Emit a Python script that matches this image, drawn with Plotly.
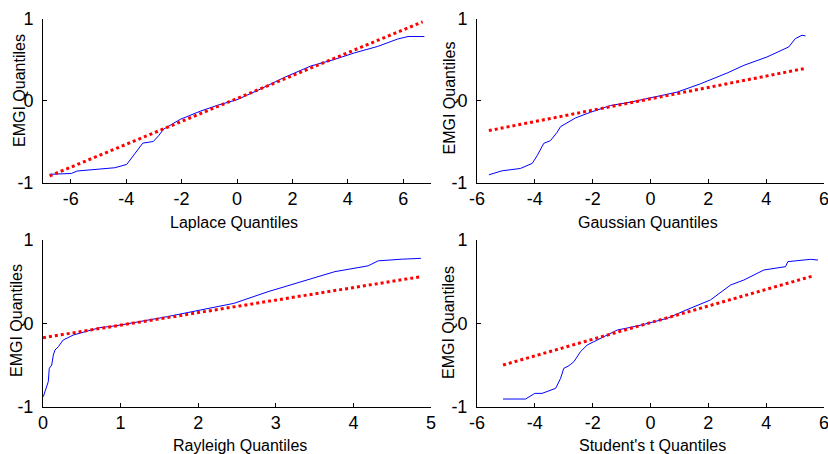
import plotly.graph_objects as go

W, H = 828, 454

# ---------------- data ----------------
laplace_x = [-6.76, -5.98, -5.77, -4.95, -4.41, -3.98, -3.80, -3.62, -3.40, -3.02, -2.83,
             -2.65, -2.05, -1.32, -0.72, 0.00, 0.85, 1.70, 2.66, 3.51, 4.23, 5.08, 5.80,
             6.17, 6.76]
laplace_y = [-0.90, -0.89, -0.86, -0.84, -0.82, -0.78, -0.70, -0.62, -0.52, -0.50, -0.43,
             -0.35, -0.23, -0.13, -0.06, 0.01, 0.14, 0.28, 0.42, 0.50, 0.58, 0.66, 0.75,
             0.78, 0.78]
laplace_ref_x = [-6.76, 6.70]
laplace_ref_y = [-0.92, 0.96]

gauss_x = [-5.59, -5.13, -4.50, -4.09, -3.92, -3.69, -3.46, -3.23, -3.11, -2.59, -2.07,
           -1.38, -0.69, 0.00, 0.92, 1.73, 2.65, 3.23, 4.03, 4.78, 5.01, 5.24, 5.36]
gauss_y = [-0.906, -0.857, -0.829, -0.767, -0.673, -0.522, -0.490, -0.388, -0.318, -0.212,
           -0.143, -0.061, -0.020, 0.029, 0.102, 0.204, 0.335, 0.429, 0.531, 0.653, 0.755,
           0.796, 0.788]
gauss_ref_x = [-5.59, 5.30]
gauss_ref_y = [-0.367, 0.388]

rayleigh_x = [0.004, 0.026, 0.068, 0.081, 0.112, 0.133, 0.155, 0.197, 0.26, 0.39, 0.56,
              0.73, 0.95, 1.25, 1.60, 2.03, 2.46, 2.90, 3.33, 3.76, 4.19, 4.32, 4.63, 4.87]
rayleigh_y = [-0.88, -0.82, -0.70, -0.54, -0.50, -0.38, -0.32, -0.28, -0.20, -0.14, -0.092,
              -0.052, -0.028, 0.02, 0.08, 0.16, 0.24, 0.38, 0.50, 0.62, 0.69, 0.75, 0.77,
              0.78]
rayleigh_ref_x = [0.0, 4.87]
rayleigh_ref_y = [-0.172, 0.56]

student_x = [-5.10, -4.32, -4.00, -3.75, -3.28, -3.11, -3.00, -2.82, -2.65, -2.42, -2.19,
             -1.84, -1.15, -0.46, 0.00, 0.58, 1.15, 2.07, 2.77, 3.23, 3.92, 4.67, 4.75,
             5.53, 5.79]
student_y = [-0.908, -0.908, -0.84, -0.84, -0.78, -0.66, -0.54, -0.508, -0.46, -0.34, -0.26,
             -0.20, -0.08, -0.032, 0.008, 0.06, 0.148, 0.28, 0.46, 0.52, 0.64, 0.68, 0.74,
             0.768, 0.76]
student_ref_x = [-5.10, 5.65]
student_ref_y = [-0.50, 0.572]

x_labels = ["Laplace Quantiles", "Gaussian Quantiles", "Rayleigh Quantiles",
            "Student's t Quantiles"]
y_label = "EMGI Quantiles"
x_ranges = [[-7, 7], [-6, 6], [0, 5], [-6, 6]]
x_ticks = [[-6, -4, -2, 0, 2, 4, 6], [-6, -4, -2, 0, 2, 4, 6], [0, 1, 2, 3, 4, 5],
           [-6, -4, -2, 0, 2, 4, 6]]
x_ticktext = [["-6", "-4", "-2", "0", "2", "4", "6"], ["-6", "-4", "-2", "0", "2", "4", "6"],
              ["0", "1", "2", "3", "4", "5"], ["-6", "-4", "-2", "0", "2", "4", "6"]]
y_ticks = [-1, 0, 1]
y_ticktext = ["-1", "0", "1"]

series = [(laplace_x, laplace_y, laplace_ref_x, laplace_ref_y),
          (gauss_x, gauss_y, gauss_ref_x, gauss_ref_y),
          (rayleigh_x, rayleigh_y, rayleigh_ref_x, rayleigh_ref_y),
          (student_x, student_y, student_ref_x, student_ref_y)]

# ---------------- layout geometry (pixels) ----------------
boxes = [(43, 431, 18.5, 182.5), (477, 824, 18.5, 182.5),
         (43, 431, 240, 406.7), (477, 824, 240, 406.7)]
ylabel_pos = [(19, 91), (449, 98.5), (16.5, 320.5), (448, 322)]
xlabel_pos = [(234, 223), (648, 222), (240, 445), (652, 445)]

FONT = "Liberation Sans, Arial, Helvetica, sans-serif"

fig = go.Figure()
layout = dict(width=W, height=H, margin=dict(l=0, r=0, t=0, b=0, autoexpand=False),
              paper_bgcolor="white", plot_bgcolor="white", showlegend=False,
              font=dict(family=FONT, color="black"))
annotations = []

for i, (bx, by, rx, ry) in enumerate(series):
    n = "" if i == 0 else str(i + 1)
    fig.add_trace(go.Scatter(x=bx, y=by, mode="lines",
                             line=dict(color="#0000ff", width=1),
                             xaxis="x" + n, yaxis="y" + n, hoverinfo="skip"))
    fig.add_trace(go.Scatter(x=rx, y=ry, mode="lines",
                             line=dict(color="#ff0000", width=3, dash="dot"),
                             xaxis="x" + n, yaxis="y" + n, hoverinfo="skip"))
    x0, x1, y0, y1 = boxes[i]
    common = dict(showline=True, linecolor="black", linewidth=1, ticks="inside",
                  ticklen=4, tickcolor="black", tickwidth=1, showgrid=False,
                  zeroline=False, mirror=False, automargin=False,
                  ticklabeloverflow="allow",
                  tickfont=dict(size=18, family=FONT, color="black"))
    layout["xaxis" + n] = dict(domain=[x0 / W, x1 / W], range=x_ranges[i],
                               tickvals=x_ticks[i], ticktext=x_ticktext[i],
                               anchor="y" + n, **common)
    layout["yaxis" + n] = dict(domain=[1 - y1 / H, 1 - y0 / H], range=[-1, 1],
                               tickvals=y_ticks, ticktext=y_ticktext,
                               ticklabelstandoff=5, anchor="x" + n, **common)
    lx, ly = xlabel_pos[i]
    annotations.append(dict(text=x_labels[i], x=lx / W, y=1 - ly / H, xref="paper",
                            yref="paper", showarrow=False, xanchor="center",
                            yanchor="middle", font=dict(size=16, family=FONT)))
    yx, yy = ylabel_pos[i]
    annotations.append(dict(text=y_label, x=yx / W, y=1 - yy / H, xref="paper",
                            yref="paper", showarrow=False, xanchor="center",
                            yanchor="middle", textangle=-90,
                            font=dict(size=16, family=FONT)))

layout["annotations"] = annotations
fig.update_layout(**layout)
fig.write_html("out.html", config={"displayModeBar": False},
               post_script="document.body.style.margin='0';"
                           "document.body.style.overflow='hidden';")
